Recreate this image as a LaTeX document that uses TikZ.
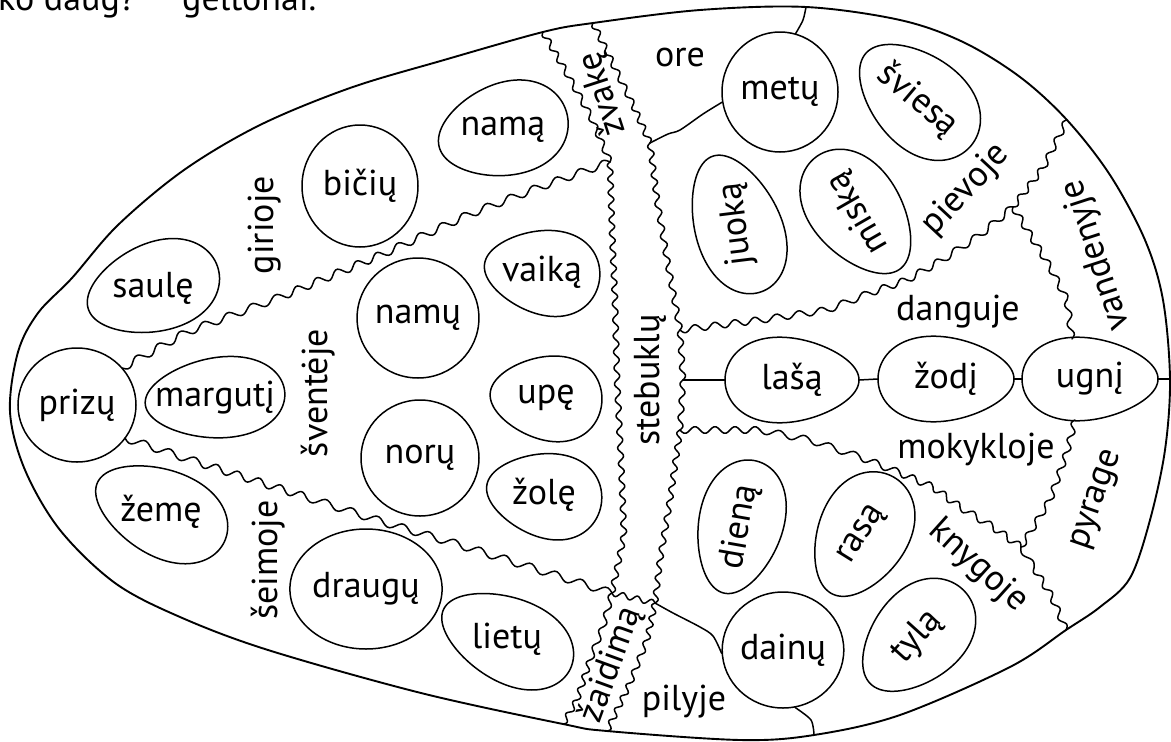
\documentclass[tikz,border=0pt]{standalone}
\usepackage{fontspec}
\setmainfont{PT Sans}
\usetikzlibrary{shapes.geometric}
\tikzset{
  outl/.style={line width=1.9pt, line join=round},
  sep/.style={line width=1.5pt, line join=round, line cap=round},
  ovl/.style={line width=1.5pt},
  lbl/.style={font=\fontsize{36}{40}\selectfont, inner sep=0pt},
  circ/.style={ellipse, draw, line width=1.5pt, inner sep=0pt, font=\fontsize{36}{40}\selectfont},
}
% wavy segment: x1 y1 x2 y2 wavelength amplitude
\newcommand{\wseg}[6]{%
  \pgfmathsetmacro{\wL}{veclen(#3-#1,#4-#2)}%
  \pgfmathtruncatemacro{\wn}{max(1,round(\wL/#5))}%
  \pgfmathtruncatemacro{\ws}{\wn*10+1}%
  \draw[sep] plot[domain=0:1, samples=\ws, variable=\t, smooth]
    ({#1+(#3-#1)*\t-(#6)*sin(360*\wn*\t)*(#4-#2)/\wL},
     {#2+(#4-#2)*\t+(#6)*sin(360*\wn*\t)*(#3-#1)/\wL});
}
% name, cx, cy, rx, ry, axis angle, bluntness k, text, text angle
\newcommand{\eggnode}[9]{%
  \node[ellipse, inner sep=0pt, minimum width={2*#4}, minimum height={2*#5}, rotate=#6] (#1) at (#2,#3) {};
  \draw[ovl, shift={(#2,#3)}, rotate=#6] plot[domain=0:357, samples=120, variable=\t]
     ({#4*cos(\t)}, {#5*sin(\t)*(1+(#7)*cos(\t))}) -- cycle;
  \node[lbl, rotate=#9] (#1-t) at (#1.center) {#8};
}
\begin{document}
\begin{tikzpicture}[x=1pt,y=-1pt]
\useasboundingbox (0,0) rectangle (1171,742);
% top (cut off) text
\node[lbl, anchor=base west] (top1) at (-2,10) {ko daug?};
\node[lbl, anchor=base west] (top2) at (182,10) {geltonai.};

% outline points where separators end
\coordinate (oZL) at (543,32);
\coordinate (oZR) at (593,23);
\coordinate (oMe) at (806,7);
\coordinate (oTR) at (1067,120);
\coordinate (rEnd) at (1171,379);
\coordinate (oBR) at (1066,630);
\coordinate (oDa) at (814,735);
\coordinate (oAR) at (607,731);
\coordinate (oAL) at (563,724);
\coordinate (jR1) at (650,143);
\coordinate (jR2) at (655,603);
\coordinate (sR) at (683,380);

% egg outline
\draw[outl] plot[smooth cycle, tension=0.55] coordinates {
 (10,412) (18,352) (38,313) (72,278) (118,225) (184,170) (260,125) (350,88) (444,60)
 (oZL) (oZR) (700,10) (oMe) (900,20) (963,42) (1020,77) (oTR) (1110,175) (1145,240)
 (1163,300) (1170,379) (1165,450) (1150,520) (1130,578) (1100,607) (oBR) (1010,667)
 (900,715) (oDa) (740,740) (oAR) (oAL) (421,693) (268,650) (180,617) (115,583) (60,530) (25,470)};

% circles
\node[circ, minimum width=118, minimum height=114] (prizu) at (77,405) {prizų};
\node[circ, minimum width=116, minimum height=122] (biciu) at (360,186) {bičių};
\node[circ, minimum width=116, minimum height=120] (namu) at (418,318) {namų};
\node[circ, minimum width=118, minimum height=116] (noru) at (420,458) {norų};
\node[circ, minimum width=118, minimum height=120] (draugu) at (366,589) {draugų};
\node[circ, minimum width=116, minimum height=120] (metu) at (780,92) {metų};
\node[circ, minimum width=114, minimum height=116] (dainu) at (783,650) {dainų};

% egg-shaped ovals
\eggnode{nama}{503}{130}{66}{46}{15}{0.15}{namą}{0}
\eggnode{saule}{153}{288}{68}{44}{18}{0.15}{saulę}{0}
\eggnode{marguti}{215}{398}{70}{40}{5}{0.15}{margutį}{0}
\eggnode{zeme}{161}{512}{70}{43}{-25}{0.15}{žemę}{0}
\eggnode{lietu}{507}{639}{70}{42}{-25}{0.15}{lietų}{0}
\eggnode{vaika}{542}{272}{58}{42}{-8}{0.2}{vaiką}{0}
\eggnode{upe}{546}{398}{56}{42}{-5}{0.2}{upę}{0}
\eggnode{zole}{544}{495}{58}{42}{-10}{0.2}{žolę}{0}
\eggnode{juoka}{737}{224}{72}{43}{110}{-0.15}{juoką}{97}
\eggnode{miska}{858}{213}{70}{45}{127}{0.15}{miską}{120}
\eggnode{sviesa}{918}{100}{70}{46}{-42}{0.15}{šviesą}{-40}
\eggnode{lasa}{792}{380}{67}{42}{0}{-0.2}{lašą}{0}
\eggnode{zodi}{946}{379}{68}{42}{0}{-0.2}{žodį}{0}
\eggnode{ugni}{1090}{379}{68}{41}{0}{-0.2}{ugnį}{0}
\eggnode{diena}{740}{527}{68}{42}{76}{0.15}{dieną}{80}
\eggnode{rasa}{862}{535}{66}{45}{63}{0.15}{rasą}{58}
\eggnode{tyla}{917}{637}{66}{45}{45}{0.15}{tylą}{48}

% region labels
\node[lbl, rotate=90] (girioje) at (265,225) {girioje};
\node[lbl, rotate=90] (sventeje) at (318,393) {šventėje};
\node[lbl, rotate=90] (seimoje) at (268,560) {šeimoje};
\node[lbl, rotate=108] (zvake) at (603,94) {žvakę};
\node[lbl] (ore) at (680,57) {ore};
\node[lbl, rotate=90] (stebuklu) at (650,380) {stebuklų};
\node[lbl, rotate=47] (pievoje) at (966,190) {pievoje};
\node[lbl, rotate=108] (vandenyje) at (1097,255) {vandenyje};
\node[lbl] (danguje) at (958,312) {danguje};
\node[lbl] (mokykloje) at (976,450) {mokykloje};
\node[lbl, rotate=71] (pyrage) at (1098,500) {pyrage};
\node[lbl, rotate=-42] (knygoje) at (978,566) {knygoje};
\node[lbl] (pilyje) at (684,702) {pilyje};
\node[lbl, rotate=70] (zaidima) at (611,665) {žaidimą};

% wavy separators: band zvake
\wseg{543}{32}{565}{70}{15}{2.8}\wseg{565}{70}{590}{115}{15}{2.8}\wseg{590}{115}{610}{162}{15}{2.8}
\wseg{593}{23}{612}{62}{15}{2.8}\wseg{612}{62}{633}{105}{15}{2.8}\wseg{633}{105}{650}{143}{15}{2.8}
% band stebuklu
\wseg{610}{162}{612}{230}{15}{2.8}\wseg{612}{230}{615}{300}{15}{2.8}\wseg{615}{300}{617}{380}{15}{2.8}
\wseg{617}{380}{621}{460}{15}{2.8}\wseg{621}{460}{624}{535}{15}{2.8}\wseg{624}{535}{612}{593}{15}{2.8}
\wseg{650}{143}{657}{200}{15}{2.8}\wseg{657}{200}{668}{265}{15}{2.8}\wseg{668}{265}{680}{330}{15}{2.8}
\wseg{680}{330}{683}{380}{15}{2.8}\wseg{683}{380}{680}{430}{15}{2.8}\wseg{680}{430}{670}{500}{15}{2.8}
\wseg{670}{500}{660}{560}{15}{2.8}\wseg{660}{560}{655}{603}{15}{2.8}
% band zaidima
\wseg{612}{593}{655}{603}{15}{2.8}
\wseg{612}{593}{603}{627}{15}{2.8}\wseg{603}{627}{590}{660}{15}{2.8}\wseg{590}{660}{577}{700}{15}{2.8}\wseg{577}{700}{563}{724}{15}{2.8}
\wseg{655}{603}{647}{640}{15}{2.8}\wseg{647}{640}{630}{683}{15}{2.8}\wseg{630}{683}{607}{731}{15}{2.8}
% upper and lower diagonals
\wseg{122}{368}{187}{332}{24}{3.8}\wseg{187}{332}{283}{296}{24}{3.8}\wseg{283}{296}{383}{254}{24}{3.8}
\wseg{383}{254}{470}{214}{24}{3.8}\wseg{470}{214}{540}{187}{24}{3.8}\wseg{540}{187}{610}{162}{24}{3.8}
\wseg{125}{438}{200}{463}{24}{3.8}\wseg{200}{463}{306}{497}{24}{3.8}\wseg{306}{497}{383}{522}{24}{3.8}
\wseg{383}{522}{460}{545}{24}{3.8}\wseg{460}{545}{536}{569}{24}{3.8}\wseg{536}{569}{612}{593}{24}{3.8}
% right half
\wseg{680}{330}{760}{320}{22}{3.4}\wseg{760}{320}{827}{310}{22}{3.4}\wseg{827}{310}{870}{293}{22}{3.4}
\wseg{870}{293}{907}{280}{22}{3.4}\wseg{907}{280}{942}{260}{22}{3.4}\wseg{942}{260}{980}{235}{22}{3.4}
\wseg{980}{235}{1013}{207}{22}{3.4}
\wseg{1013}{207}{1043}{168}{18}{3}\wseg{1043}{168}{1067}{120}{18}{3}
\wseg{1013}{207}{1050}{267}{18}{3}\wseg{1050}{267}{1067}{300}{18}{3}\wseg{1067}{300}{1072}{339}{18}{3}
\wseg{680}{430}{760}{430}{22}{3.4}\wseg{760}{430}{810}{440}{22}{3.4}\wseg{810}{440}{860}{457}{22}{3.4}
\wseg{860}{457}{900}{473}{22}{3.4}\wseg{900}{473}{933}{487}{22}{3.4}\wseg{933}{487}{960}{507}{22}{3.4}
\wseg{960}{507}{993}{527}{22}{3.4}\wseg{993}{527}{1021}{547}{22}{3.4}
\wseg{1021}{547}{1034}{568}{18}{3}\wseg{1034}{568}{1052}{597}{18}{3}\wseg{1052}{597}{1066}{630}{18}{3}
\wseg{1075}{420}{1067}{452}{18}{3}\wseg{1067}{452}{1050}{500}{18}{3}\wseg{1050}{500}{1021}{547}{18}{3}

% plain connectors
\draw[sep] plot[smooth] coordinates {(jR1) (668,134) (680,130) (703,114) (metu.190)};
\draw[sep] plot[smooth] coordinates {(metu.75) (803,20) (oMe)};
\draw[sep] plot[smooth] coordinates {(jR2) (673,613) (700,627) (713,636) (dainu.183)};
\draw[sep] plot[smooth] coordinates {(dainu.-78) (811,720) (oDa)};
\draw[sep] (sR) -- (lasa.west);
\draw[sep] (lasa.east) -- (zodi.west);
\draw[sep] (zodi.east) -- (ugni.west);
\draw[sep] (ugni.east) -- (rEnd);
\end{tikzpicture}
\end{document}
